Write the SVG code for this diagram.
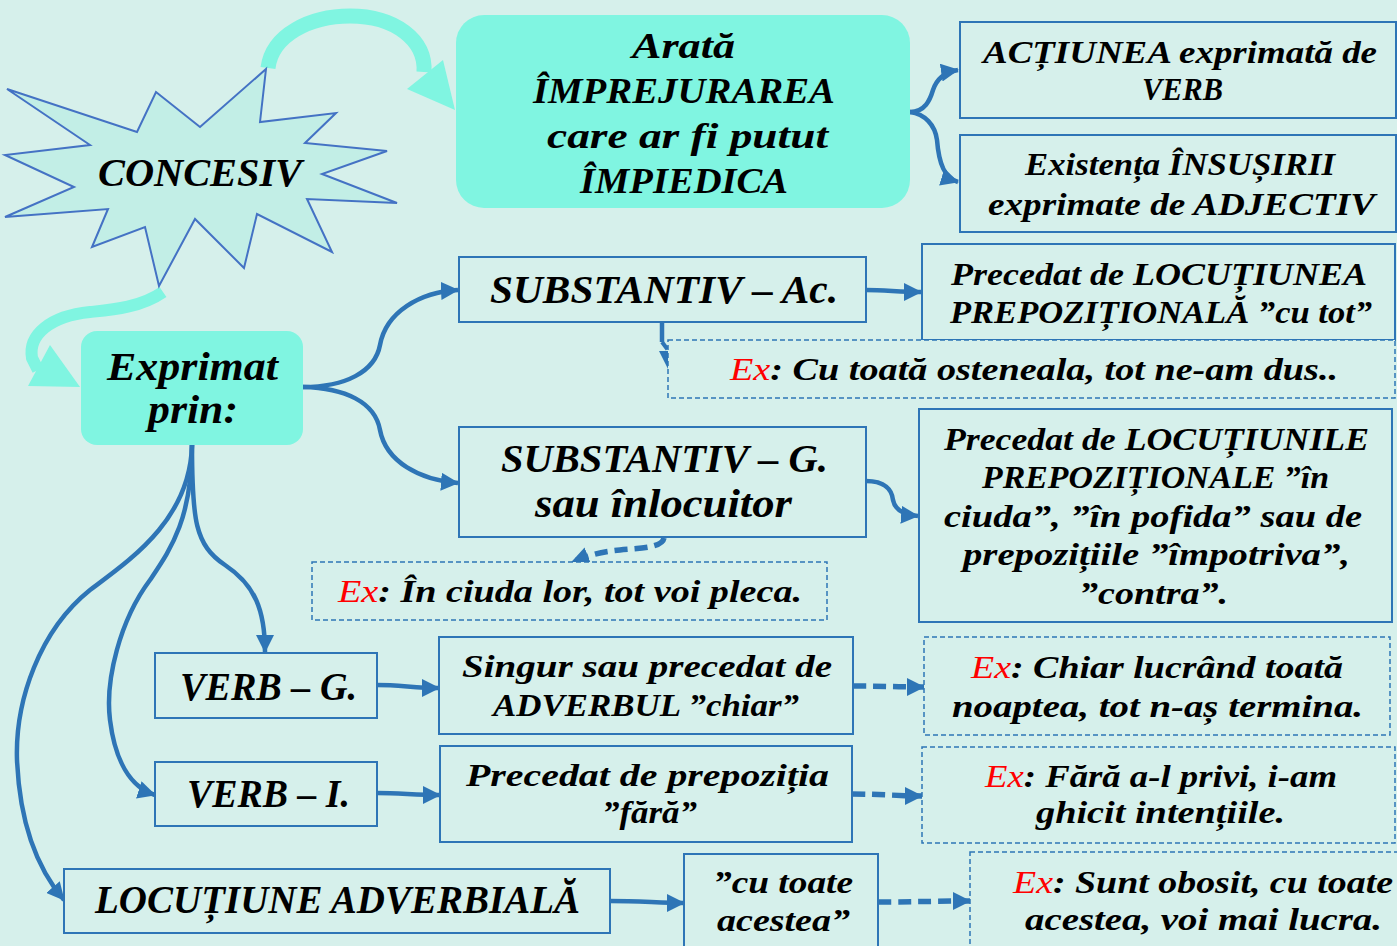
<svg xmlns="http://www.w3.org/2000/svg" width="1397" height="946" viewBox="0 0 1397 946">
<defs>
<style>
.t{font-family:"Liberation Serif","Times New Roman",serif;font-weight:bold;font-style:italic;fill:#000}
.L{font-size:40px}
.M{font-size:36px}
.S{font-size:32px}
.b{fill:#d6f0eb;stroke:#2e75b6;stroke-width:2}
.d{fill:#d6f0eb;stroke:#2e75b6;stroke-width:1.5;stroke-dasharray:5,3}
.tealbox{fill:#80f5e1}
.c{fill:none;stroke:#2e75b6;stroke-width:4.5}
.cd{fill:none;stroke:#2e75b6;stroke-width:5.5;stroke-dasharray:13,7}
.cdt{fill:none;stroke:#2e75b6;stroke-width:4;stroke-dasharray:9,5}
.ex{fill:#ff0000;font-weight:normal}
.tl{fill:none;stroke:#80f5e1}
.tf{fill:#80f5e1}
</style>
<marker id="ah" markerUnits="userSpaceOnUse" markerWidth="18" markerHeight="18" refX="17" refY="9" orient="auto" viewBox="0 0 18 18"><path d="M0,0 L18,9 L0,18 z" fill="#2e75b6"/></marker>
</defs>
<rect x="0" y="0" width="1397" height="946" fill="#d6f0eb"/>

<g id="connectors">
  <path class="tl" stroke-width="15" d="M268,68 C272,35 310,16 350,16 C395,16 426,40 424,72"/>
  <polygon class="tf" points="407,89 443,60 455,110"/>
  <path class="tl" stroke-width="12" d="M163,292 C140,308 110,310 90,312 C50,316 28,335 32,358 L38,370"/>
  <polygon class="tf" points="28,386 50,345 80,387"/>
  <path class="c" marker-end="url(#ah)" d="M910,112 C925,112 930,100 933,90 C937,78 945,72 958,70"/>
  <path class="c" marker-end="url(#ah)" d="M910,112 C925,114 935,125 937,140 C939,165 945,178 958,182"/>
  <path class="c" marker-end="url(#ah)" d="M303,387 C345,387 375,372 380,345 C386,312 420,292 458,290"/>
  <path class="c" marker-end="url(#ah)" d="M303,387 C345,388 375,402 380,430 C386,462 420,480 458,483"/>
  <path class="c" marker-end="url(#ah)" d="M866,290 C885,290 900,292 921,292"/>
  <path class="c" stroke-width="6" d="M662,322 L662,342"/>
  <path class="cdt" marker-end="url(#ah)" d="M662,342 L668,350 L668,368"/>
  <path class="c" marker-end="url(#ah)" d="M866,481 C885,481 892,490 893,500 C895,510 905,515 918,516"/>
  <path class="cd" marker-end="url(#ah)" d="M664,538 C662,548 640,548 620,550 C600,552 590,555 572,562"/>
  <path class="c" marker-end="url(#ah)" d="M192,445 C192,520 195,545 225,565 C255,585 265,610 265,652"/>
  <path class="c" marker-end="url(#ah)" d="M192,445 C192,520 170,550 150,580 C120,620 105,680 110,720 C115,760 130,787 155,795"/>
  <path class="c" marker-end="url(#ah)" d="M192,445 C190,520 130,560 90,590 C40,630 15,700 17,760 C20,830 40,872 64,900"/>
  <path class="c" marker-end="url(#ah)" d="M377,685 C400,685 415,688 439,688"/>
  <path class="c" marker-end="url(#ah)" d="M377,793 C400,793 415,795 440,795"/>
  <path class="c" marker-end="url(#ah)" d="M610,901 C640,901 660,903 684,903"/>
  <path class="cd" marker-end="url(#ah)" d="M853,686 C880,686 900,687 924,687"/>
  <path class="cd" marker-end="url(#ah)" d="M852,794 C880,794 900,796 922,796"/>
  <path class="cd" marker-end="url(#ah)" d="M878,902 C910,902 940,901 970,901"/>
</g>

<g id="concesiv">
  <polygon points="7,89 137,132 156,92 200,127 266,69 260,122 336,113 305,143 387,151 322,174 397,203 307,199 332,252 257,214 244,268 195,219 159,286 145,227 92,247 108,209 5,217 74,187 5,155 90,145" fill="#c2eee6" stroke="#4472c4" stroke-width="2"/>
  <text class="t L" x="98" y="186" textLength="204" lengthAdjust="spacingAndGlyphs">CONCESIV</text>
</g>

<g id="arata">
  <rect class="tealbox" x="456" y="15" width="454" height="193" rx="28"/>
  <text class="t M" x="632" y="58" textLength="103" lengthAdjust="spacingAndGlyphs">Arată</text>
  <text class="t M" x="533" y="103" textLength="302" lengthAdjust="spacingAndGlyphs">ÎMPREJURAREA</text>
  <text class="t M" x="547" y="148" textLength="281" lengthAdjust="spacingAndGlyphs">care ar fi putut</text>
  <text class="t M" x="580" y="193" textLength="208" lengthAdjust="spacingAndGlyphs">ÎMPIEDICA</text>
</g>

<g id="actiunea">
  <rect class="b" x="960" y="22" width="436" height="96"/>
  <text class="t S" x="983" y="63" textLength="394" lengthAdjust="spacingAndGlyphs">ACȚIUNEA exprimată de</text>
  <text class="t S" x="1142" y="100" textLength="81" lengthAdjust="spacingAndGlyphs">VERB</text>
</g>

<g id="existenta">
  <rect class="b" x="960" y="135" width="436" height="97"/>
  <text class="t S" x="1025" y="175" textLength="310" lengthAdjust="spacingAndGlyphs">Existența ÎNSUȘIRII</text>
  <text class="t S" x="988" y="215" textLength="387" lengthAdjust="spacingAndGlyphs">exprimate de ADJECTIV</text>
</g>

<g id="subst-ac">
  <rect class="b" x="459" y="257" width="407" height="65"/>
  <text class="t L" x="490" y="303" textLength="348" lengthAdjust="spacingAndGlyphs">SUBSTANTIV – Ac.</text>
</g>

<g id="prec-locutiunea">
  <rect class="b" x="922" y="244" width="473" height="96"/>
  <text class="t S" x="951" y="285" textLength="416" lengthAdjust="spacingAndGlyphs">Precedat de LOCUȚIUNEA</text>
  <text class="t S" x="950" y="323" textLength="422" lengthAdjust="spacingAndGlyphs">PREPOZIȚIONALĂ ”cu tot”</text>
</g>

<g id="ex-osteneala">
  <rect class="d" x="668" y="340" width="727" height="58"/>
  <text class="t S" x="730" y="380" textLength="608" lengthAdjust="spacingAndGlyphs"><tspan class="ex">Ex</tspan>: Cu toată osteneala, tot ne-am dus..</text>
</g>

<g id="exprimat">
  <rect class="tealbox" x="81" y="331" width="222" height="114" rx="16"/>
  <text class="t L" x="107" y="380" textLength="171" lengthAdjust="spacingAndGlyphs">Exprimat</text>
  <text class="t L" x="148" y="423" textLength="90" lengthAdjust="spacingAndGlyphs">prin:</text>
</g>

<g id="subst-g">
  <rect class="b" x="459" y="427" width="407" height="110"/>
  <text class="t L" x="501" y="472" textLength="327" lengthAdjust="spacingAndGlyphs">SUBSTANTIV – G.</text>
  <text class="t L" x="535" y="517" textLength="257" lengthAdjust="spacingAndGlyphs">sau înlocuitor</text>
</g>

<g id="ex-ciuda">
  <rect class="d" x="312" y="562" width="515" height="58"/>
  <text class="t S" x="338" y="602" textLength="464" lengthAdjust="spacingAndGlyphs"><tspan class="ex">Ex</tspan>: În ciuda lor, tot voi pleca.</text>
</g>

<g id="prec-locutiunile">
  <rect class="b" x="919" y="409" width="473" height="213"/>
  <text class="t S" x="944" y="450" textLength="425" lengthAdjust="spacingAndGlyphs">Precedat de LOCUȚIUNILE</text>
  <text class="t S" x="982" y="488" textLength="347" lengthAdjust="spacingAndGlyphs">PREPOZIȚIONALE ”în</text>
  <text class="t S" x="944" y="527" textLength="418" lengthAdjust="spacingAndGlyphs">ciuda”, ”în pofida” sau de</text>
  <text class="t S" x="963" y="565" textLength="387" lengthAdjust="spacingAndGlyphs">prepozițiile ”împotriva”,</text>
  <text class="t S" x="1079" y="604" textLength="149" lengthAdjust="spacingAndGlyphs">”contra”.</text>
</g>

<g id="verb-g">
  <rect class="b" x="155" y="653" width="222" height="65"/>
  <text class="t L" x="180" y="700" textLength="177" lengthAdjust="spacingAndGlyphs">VERB – G.</text>
</g>

<g id="verb-i">
  <rect class="b" x="155" y="762" width="222" height="64"/>
  <text class="t L" x="187" y="807" textLength="163" lengthAdjust="spacingAndGlyphs">VERB – I.</text>
</g>

<g id="singur">
  <rect class="b" x="439" y="637" width="414" height="97"/>
  <text class="t S" x="462" y="677" textLength="370" lengthAdjust="spacingAndGlyphs">Singur sau precedat de</text>
  <text class="t S" x="493" y="716" textLength="306" lengthAdjust="spacingAndGlyphs">ADVERBUL ”chiar”</text>
</g>

<g id="prec-fara">
  <rect class="b" x="440" y="746" width="412" height="96"/>
  <text class="t S" x="466" y="786" textLength="363" lengthAdjust="spacingAndGlyphs">Precedat de prepoziția</text>
  <text class="t S" x="602" y="823" textLength="95" lengthAdjust="spacingAndGlyphs">”fără”</text>
</g>

<g id="ex-chiar">
  <rect class="d" x="924" y="637" width="466" height="98"/>
  <text class="t S" x="971" y="678" textLength="372" lengthAdjust="spacingAndGlyphs"><tspan class="ex">Ex</tspan>: Chiar lucrând toată</text>
  <text class="t S" x="952" y="717" textLength="411" lengthAdjust="spacingAndGlyphs">noaptea, tot n-aș termina.</text>
</g>

<g id="ex-fara">
  <rect class="d" x="922" y="747" width="473" height="96"/>
  <text class="t S" x="985" y="787" textLength="352" lengthAdjust="spacingAndGlyphs"><tspan class="ex">Ex</tspan>: Fără a-l privi, i-am</text>
  <text class="t S" x="1036" y="823" textLength="249" lengthAdjust="spacingAndGlyphs">ghicit intențiile.</text>
</g>

<g id="locutiune">
  <rect class="b" x="64" y="869" width="546" height="64"/>
  <text class="t L" x="95" y="913" textLength="485" lengthAdjust="spacingAndGlyphs">LOCUȚIUNE ADVERBIALĂ</text>
</g>

<g id="cu-toate">
  <rect class="b" x="684" y="854" width="194" height="100"/>
  <text class="t S" x="713" y="893" textLength="140" lengthAdjust="spacingAndGlyphs">”cu toate</text>
  <text class="t S" x="717" y="931" textLength="133" lengthAdjust="spacingAndGlyphs">acestea”</text>
</g>

<g id="ex-obosit">
  <rect class="d" x="970" y="852" width="430" height="100"/>
  <text class="t S" x="1013" y="893" textLength="380" lengthAdjust="spacingAndGlyphs"><tspan class="ex">Ex</tspan>: Sunt obosit, cu toate</text>
  <text class="t S" x="1025" y="930" textLength="357" lengthAdjust="spacingAndGlyphs">acestea, voi mai lucra.</text>
</g>
</svg>
